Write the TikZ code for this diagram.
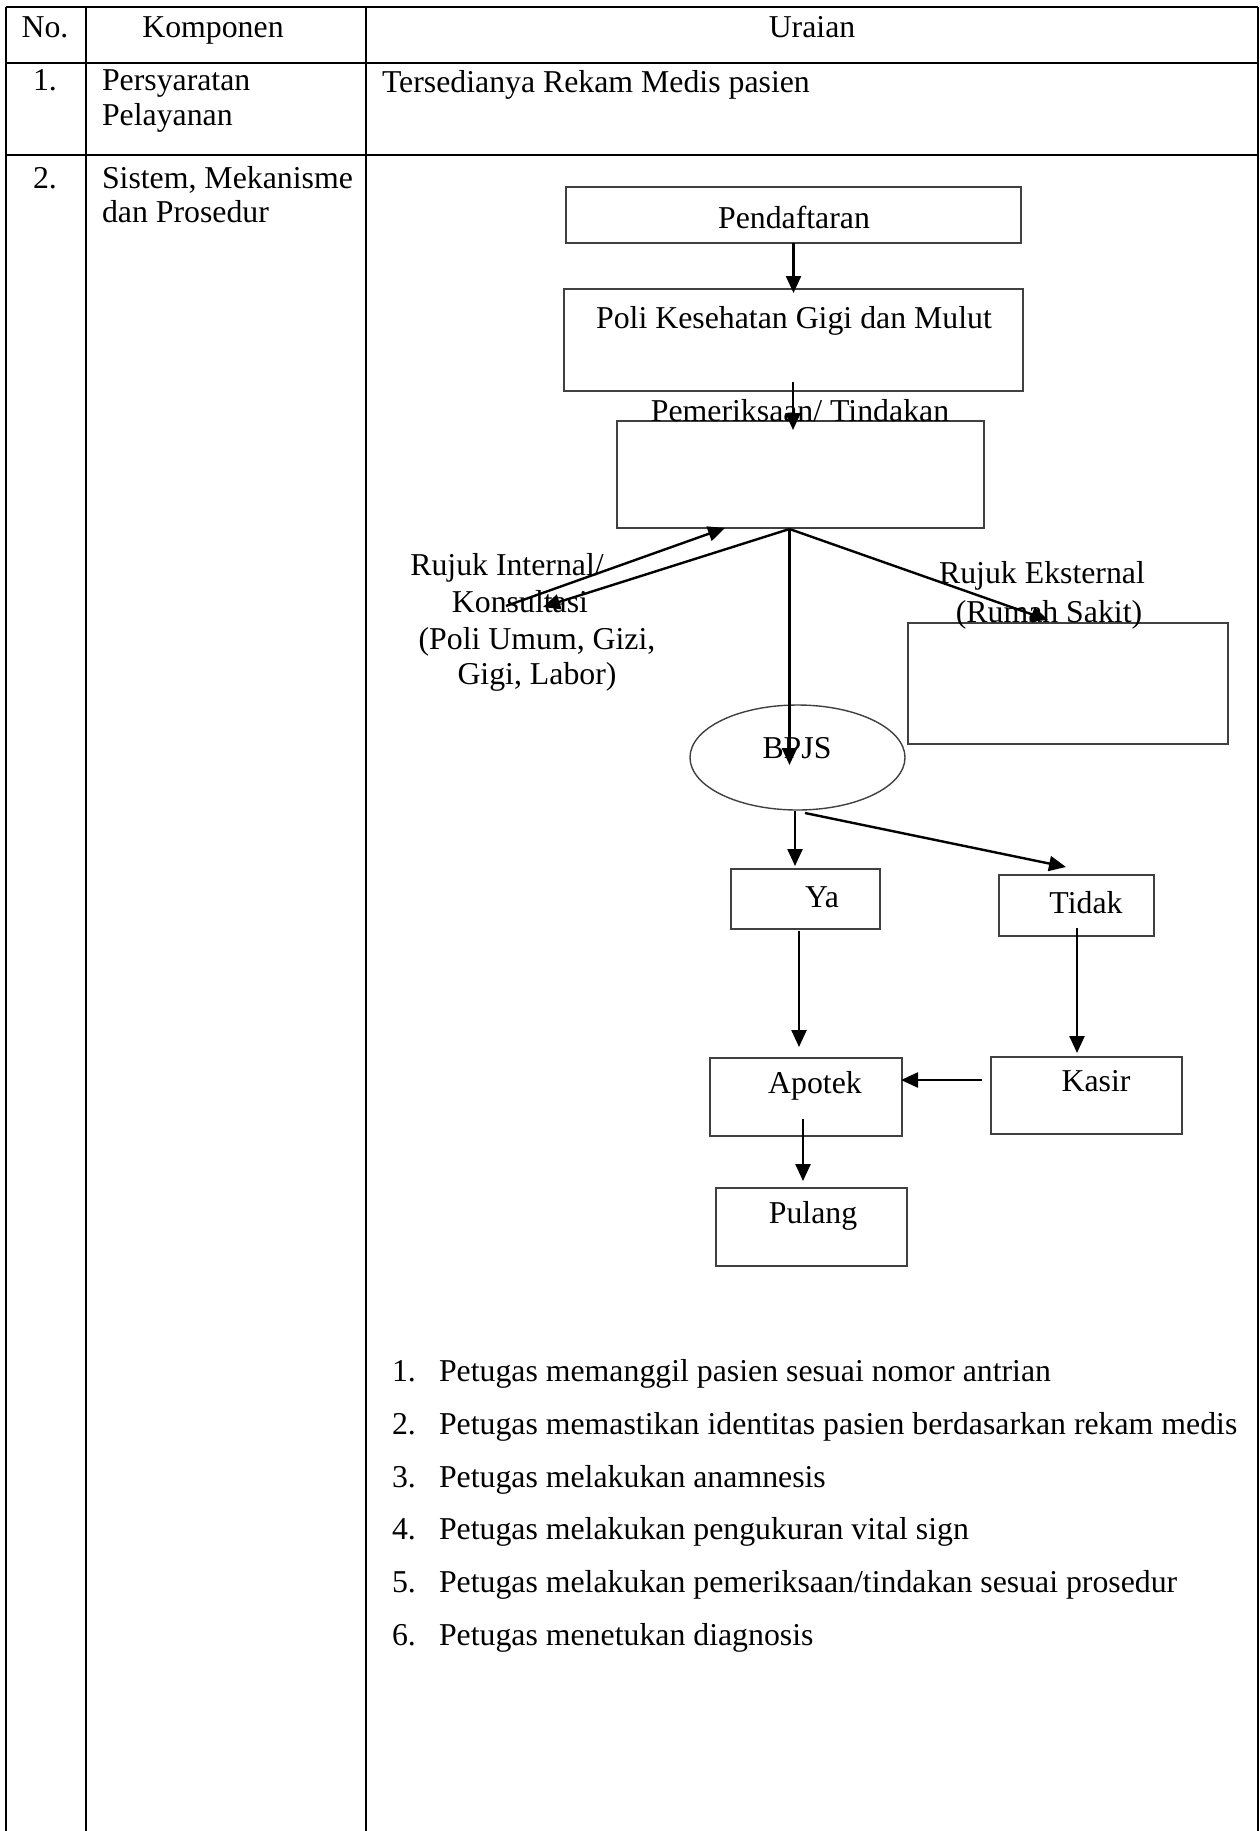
\documentclass[tikz,border=0pt]{standalone}
\usepackage{fontspec}
\setmainfont{Liberation Serif}
\usetikzlibrary{arrows.meta,calc,shapes.geometric}
\begin{document}
\begin{tikzpicture}[x=1pt,y=-1pt,
  every node/.style={font=\fontsize{31.8}{36}\selectfont, inner sep=0pt, outer sep=0pt},
  txt/.style={anchor=base},
  txtl/.style={anchor=base west},
  rule/.style={line width=2.2pt, black},
  box/.style={draw=black!75, line width=1.4pt, rectangle},
  oval/.style={draw=black!75, line width=1.4pt, ellipse},
  arr/.style={line width=2.4pt, black, -{Triangle[length=17pt,width=15pt]}}
]
\useasboundingbox (0,0) rectangle (1260,1831);

% table rules
\draw[rule] (6,7) -- (1258,7);
\draw[rule] (6,63) -- (1258,63);
\draw[rule] (6,155) -- (1258,155);
\foreach \x in {6,86,366,1258} \draw[rule] (\x,7) -- (\x,1831);

% table header and first rows
\node[txt]  (hno)   at (45,37)  {No.};
\node[txt]  (hkomp) at (213,37) {Komponen};
\node[txt]  (hurai) at (812,37) {Uraian};
\node[txt]  (n1)    at (45,90)  {1.};
\node[txtl] (k1a)   at (102,90) {Persyaratan};
\node[txtl] (k1b)   at (102,125) {Pelayanan};
\node[txtl] (u1)    at (382,92) {Tersedianya Rekam Medis pasien};
\node[txt]  (n2)    at (45,188) {2.};
\node[txtl] (k2a)   at (102,188) {Sistem, Mekanisme};
\node[txtl] (k2b)   at (102,222) {dan Prosedur};

% flow chart boxes
\node[box, minimum width=455pt, minimum height=56pt]  (pend)   at (793.5,215) {};
\node[box, minimum width=459pt, minimum height=102pt] (poli)   at (793.5,340) {};
\node[box, minimum width=367pt, minimum height=107pt] (pem)    at (800.5,474.5) {};
\node[box, minimum width=320pt, minimum height=121pt] (eks)    at (1068,683.5) {};
\node[oval, minimum width=215pt, minimum height=105pt] (bpjs)  at (797.5,757.5) {};
\node[box, minimum width=149pt, minimum height=60pt]  (ya)     at (805.5,899) {};
\node[box, minimum width=155pt, minimum height=61pt]  (tidak)  at (1076.5,905.5) {};
\node[box, minimum width=192pt, minimum height=78pt]  (apotek) at (806,1097) {};
\node[box, minimum width=191pt, minimum height=77pt]  (kasir)  at (1086.5,1095.5) {};
\node[box, minimum width=191pt, minimum height=78pt]  (pulang) at (811.5,1227) {};

% box captions
\node[txt] (tpend)   at (794,228)  {Pendaftaran};
\node[txt] (tpoli)   at (794,328)  {Poli Kesehatan Gigi dan Mulut};
\node[txt] (tpem)    at (800,421)  {Pemeriksaan/ Tindakan};
\node[txt] (tbpjs)   at (797,758)  {BPJS};
\node[txt] (tya)     at (822,907)  {Ya};
\node[txt] (ttidak)  at (1086,913) {Tidak};
\node[txt] (tapotek) at (815,1093) {Apotek};
\node[txt] (tkasir)  at (1096,1091) {Kasir};
\node[txt] (tpulang) at (813,1223) {Pulang};

% referral labels
\node[txt] (ri1) at (507,575) {Rujuk Internal/};
\node[txt] (ri2) at (520,612) {Konsultasi};
\node[txt] (ri3) at (537,649) {(Poli Umum, Gizi,};
\node[txt] (ri4) at (537,684) {Gigi, Labor)};
\node[txt] (re1) at (1042,583) {Rujuk Eksternal};
\node[txt] (re2) at (1049,622) {(Rumah Sakit)};

% connector end points
\coordinate (hub)    at ($(pem.south)+(-11,1)$);
\coordinate (intout) at (543,607);
\coordinate (intin)  at (506,606);

% connectors
\draw[arr] (pend.south) -- ($(poli.north)+(0,4)$);
\draw[arr] ($(poli.south)+(-0.5,-9)$) -- ($(poli.south |- pem.north)+(-0.5,9)$);
\draw[arr] (hub) -- (intout);
\draw[arr] (intin) -- ($(pem.south)+(-75.5,0)$);
\draw[arr] (hub) -- ($(eks.north west)+(140,-3)$);
\draw[arr] (hub) -- ($(hub |- bpjs.center)+(0,7.5)$);
\draw[arr] ($(bpjs.south)+(-2.5,1)$) -- ($(ya.north)+(-10.5,-3)$);
\draw[arr] ($(bpjs.south)+(7.5,3)$) -- ($(tidak.north)+(-10.5,-8)$);
\draw[arr] ($(ya.south)+(-6.5,2)$) -- ($(apotek.north)+(-7,-11)$);
\draw[arr] ($(tidak.south)+(0.5,-8)$) -- ($(kasir.north)+(-9.5,-4)$);
\draw[arr] ($(kasir.west)+(-9,-15.5)$) -- ($(apotek.east)+(-1,-17)$);
\draw[arr] ($(apotek.south)+(-3,-17)$) -- ($(pulang.north)+(-8.5,-7)$);

% procedure steps
\node[txtl] (l1n) at (392,1381) {1.}; \node[txtl] (l1t) at (439,1381) {Petugas memanggil pasien sesuai nomor antrian};
\node[txtl] (l2n) at (392,1434) {2.}; \node[txtl] (l2t) at (439,1434) {Petugas memastikan identitas pasien berdasarkan rekam medis};
\node[txtl] (l3n) at (392,1487) {3.}; \node[txtl] (l3t) at (439,1487) {Petugas melakukan anamnesis};
\node[txtl] (l4n) at (392,1539) {4.}; \node[txtl] (l4t) at (439,1539) {Petugas melakukan pengukuran vital sign};
\node[txtl] (l5n) at (392,1592) {5.}; \node[txtl] (l5t) at (439,1592) {Petugas melakukan pemeriksaan/tindakan sesuai prosedur};
\node[txtl] (l6n) at (392,1645) {6.}; \node[txtl] (l6t) at (439,1645) {Petugas menetukan diagnosis};
\end{tikzpicture}
\end{document}
